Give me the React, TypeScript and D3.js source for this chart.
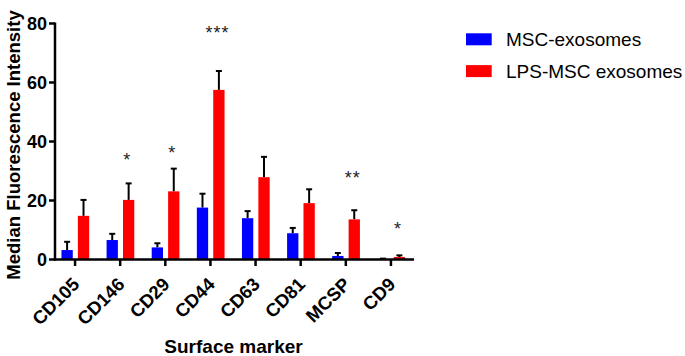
import React from "react";
import * as d3 from "d3";

const categories = ["CD105", "CD146", "CD29", "CD44", "CD63", "CD81", "MCSP", "CD9"];
const seriesNames = ["MSC-exosomes", "LPS-MSC exosomes"];
const mscMean = [3.2, 6.6, 4.1, 17.6, 14.0, 8.9, 1.2, 0.2];
const mscErr = [2.8, 2.1, 1.4, 4.7, 2.4, 1.8, 1.0, 0.1];
const lpsMean = [14.8, 20.2, 23.1, 57.5, 27.9, 19.1, 13.6, 0.85];
const lpsErr = [5.4, 5.6, 7.7, 6.4, 6.9, 4.7, 3.1, 0.55];
const significance = ["", "*", "*", "***", "", "", "**", "*"];
const sigValue = [0, 31.8, 34.2, 74.6, 0, 0, 25.5, 8.3];
const yTicks = [0, 20, 40, 60, 80];
const colors = ["#0000FF", "#FF0000"];

export default function App() {
  const W = 685, H = 356;
  const y = d3.scaleLinear().domain([0, 80]).range([259.5, 23.5]);
  const x = d3.scaleBand().domain(categories).range([52.5, 413.5]);
  const bw = 11.3;
  const font = "Arial, 'Liberation Sans', Helvetica, sans-serif";
  const series = [
    { mean: mscMean, err: mscErr, off: -13.6 },
    { mean: lpsMean, err: lpsErr, off: 2.8 },
  ];
  return (
    <svg width={W} height={H} style={{ position: "absolute", left: 0, top: 0 }} fontFamily={font}>
      <rect width={W} height={H} fill="#fff" />
      {series.map((s, si) =>
        categories.map((c, i) => {
          const cx = x(c)! + x.bandwidth() / 2;
          const x0 = cx + s.off;
          const top = y(s.mean[i]);
          const et = y(s.mean[i] + s.err[i]);
          return (
            <g key={`${si}-${i}`}>
              <line x1={x0 + bw / 2} x2={x0 + bw / 2} y1={top} y2={et} stroke="#000" strokeWidth={2} />
              <line x1={x0 + bw / 2 - 3} x2={x0 + bw / 2 + 3} y1={et} y2={et} stroke="#000" strokeWidth={2} />
              <rect x={x0} y={top} width={bw} height={y(0) - top} fill={colors[si]} />
            </g>
          );
        })
      )}
      {/* axes */}
      <line x1={55} x2={55} y1={22.5} y2={260.5} stroke="#000" strokeWidth={2.5} />
      <line x1={53.8} x2={414} y1={259.5} y2={259.5} stroke="#000" strokeWidth={2.5} />
      {yTicks.map((t) => (
        <g key={t}>
          <line x1={49} x2={55} y1={y(t)} y2={y(t)} stroke="#000" strokeWidth={2.5} />
          <text x={47} y={y(t)} dy="0.36em" textAnchor="end" fontWeight="bold" fontSize={18}>{t}</text>
        </g>
      ))}
      {categories.map((c) => {
        const cx = x(c)! + x.bandwidth() / 2;
        return (
          <g key={c}>
            <line x1={cx} x2={cx} y1={259.5} y2={266} stroke="#000" strokeWidth={2.5} />
            <text transform={`translate(${cx + 1},${281}) rotate(-45)`} textAnchor="end" fontWeight="bold" fontSize={18.5} dy="0.35em">{c}</text>
          </g>
        );
      })}
      {categories.map((c, i) =>
        significance[i] ? (
          <text key={"s" + c} x={x(c)! + x.bandwidth() / 2 + 7} y={y(sigValue[i])} textAnchor="middle" fontSize={18} letterSpacing={1} fill="#222">{significance[i]}</text>
        ) : null
      )}
      <text transform={`translate(20,145) rotate(-90)`} textAnchor="middle" fontWeight="bold" fontSize={18.5}>Median Fluorescence Intensity</text>
      <text x={233.5} y={353} textAnchor="middle" fontWeight="bold" fontSize={19}>Surface marker</text>
      {seriesNames.map((n, i) => (
        <g key={n}>
          <rect x={466} y={33.3 + i * 31.8} width={25.7} height={12} fill={colors[i]} />
          <text x={506} y={39.5 + i * 31.8} dy="0.36em" fontSize={19}>{n}</text>
        </g>
      ))}
    </svg>
  );
}
